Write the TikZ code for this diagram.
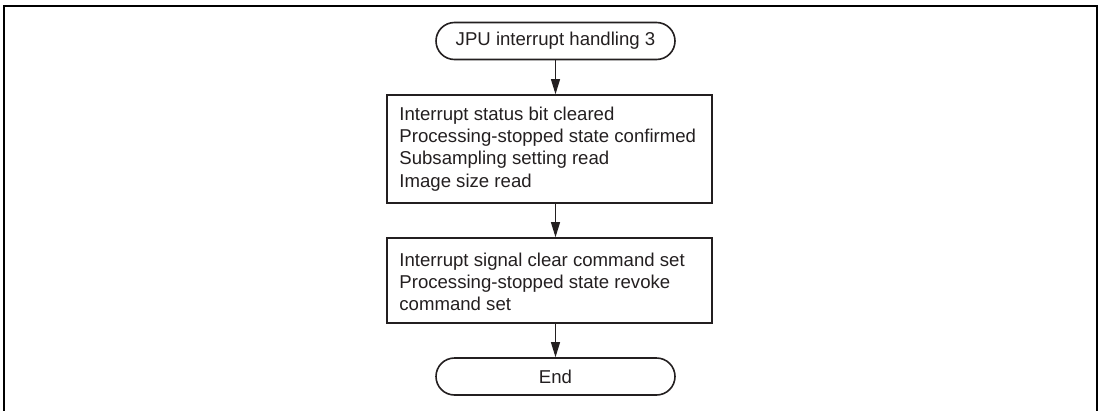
\documentclass[tikz,border=0pt]{standalone}
\usepackage{fontspec}
\setmainfont{Liberation Sans}
\usetikzlibrary{arrows.meta,shapes.misc}
\definecolor{ink}{HTML}{231F20}
\begin{document}
\begin{tikzpicture}[x=1pt,y=-1pt,
  txt/.style={font=\fontsize{18.6}{22.3}\selectfont,text=ink},
  term/.style={txt,draw=ink,rounded rectangle,line width=1.6pt,minimum width=239pt,minimum height=37pt,inner sep=0pt},
  procbox/.style={draw=ink,rectangle,line width=1.6pt,minimum width=325pt,inner sep=0pt},
  proctext/.style={txt,inner sep=0pt,align=left,anchor=west},
  flow/.style={draw=ink,-{Triangle[length=15pt,width=9pt]},line width=1pt}]
\useasboundingbox (0,0) rectangle (1101,410);
\draw[line width=2pt] (4,420) -- (4,6) -- (1096.5,6) -- (1096.5,420);
\node[term] (t) at (555.5,41) {JPU interrupt handling 3};
\node[procbox,minimum height=108pt] (b1) at (549.5,149) {};
\node[proctext] (b1t) at ([xshift=13pt]b1.west) {Interrupt status bit cleared\\Processing-stopped state confirmed\\Subsampling setting read\\Image size read};
\node[procbox,minimum height=85pt] (b2) at (549.5,280.5) {};
\node[proctext] (b2t) at ([xshift=13pt,yshift=-1.5pt]b2.west) {Interrupt signal clear command set\\Processing-stopped state revoke\\command set};
\node[term] (e) at (555.5,376.5) {End};
\draw[flow] (t.south) -- (t.south |- b1.north);
\draw[flow] (b1.south -| t.south) -- (t.south |- b2.north);
\draw[flow] (b2.south -| e.north) -- (e.north);
\end{tikzpicture}
\end{document}
